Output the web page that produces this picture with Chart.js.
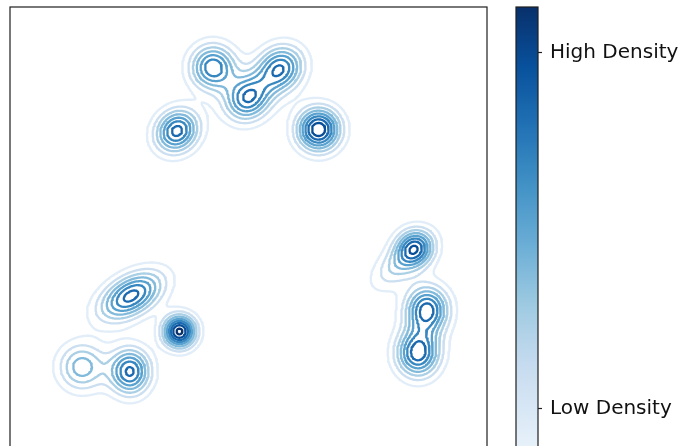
<!DOCTYPE html>
<html>
<head>
<meta charset="utf-8">
<script src="https://cdn.jsdelivr.net/npm/chart.js@4.4.1/dist/chart.umd.min.js"></script>
<style>
  html, body { margin: 0; padding: 0; background: #fff; overflow: hidden; }
  #wrap { width: 680px; height: 446px; overflow: hidden; }
</style>
</head>
<body>
<div id="wrap"><canvas id="chart" width="680" height="486"></canvas></div>
<script>
// density blobs (axis units, both axes 0-10)
const blobX       = [6.468, 3.501, 4.256, 5.660, 4.990, 2.537, 3.553, 1.509, 2.516, 8.491, 8.197, 8.742, 8.553];
const blobY       = [7.432, 7.400, 8.732, 8.700, 8.092, 3.941, 3.197, 2.453, 2.358, 4.948, 4.654, 3.648, 2.746];
const blobPeak    = [8.8,   7.4,   6.8,   7.0,   7.0,   7.4,   9.3,   4.6,   7.2,   5.9,   3.3,   7.5,   7.65];
const blobSpreadA = [0.314, 0.335, 0.329, 0.356, 0.356, 0.503, 0.239, 0.346, 0.294, 0.273, 0.503, 0.314, 0.314];
const blobSpreadB = [0.314, 0.293, 0.329, 0.314, 0.314, 0.283, 0.239, 0.346, 0.335, 0.273, 0.252, 0.346, 0.346];
const blobTilt    = [0,     45,    0,     42,    42,    30,    0,     0,     0,     0,     42,    0,     0];

const contourLevels = [1, 2, 3, 4, 5, 6, 7, 8, 9];
const colorbarTicks = [0.16, 0.905];
const colorbarLabels = ['Low Density', 'High Density'];

// matplotlib "Blues"
const blues = ['#f7fbff', '#deebf7', '#c6dbef', '#9ecae1', '#6baed6', '#4292c6', '#2171b5', '#08519c', '#08306b'];
function bluesAt(t) {
  t = Math.max(0, Math.min(1, t));
  const p = t * 8, i = Math.min(7, Math.floor(p)), f = p - i;
  const a = parseInt(blues[i].slice(1), 16), b = parseInt(blues[i + 1].slice(1), 16);
  const ch = s => Math.round(((a >> s) & 255) * (1 - f) + ((b >> s) & 255) * f);
  return 'rgb(' + ch(16) + ',' + ch(8) + ',' + ch(0) + ')';
}

// evaluate the density on a grid
const n = 400, nx = n + 1, NP = nx * nx, step = 10 / n;
const cosT = blobTilt.map(d => Math.cos(d * Math.PI / 180));
const sinT = blobTilt.map(d => Math.sin(d * Math.PI / 180));
const field = new Float64Array(NP);
for (let j = 0; j < nx; j++) {
  for (let i = 0; i < nx; i++) {
    const x = i * step, y = j * step;
    let s = 0;
    for (let k = 0; k < blobX.length; k++) {
      const dx = x - blobX[k], dy = y - blobY[k];
      const u = (dx * cosT[k] + dy * sinT[k]) / blobSpreadA[k];
      const v = (-dx * sinT[k] + dy * cosT[k]) / blobSpreadB[k];
      s += blobPeak[k] * Math.exp(-0.5 * (u * u + v * v));
    }
    field[j * nx + i] = s;
  }
}

// marching squares, segments chained into polylines
function traceLevel(L) {
  const adj = new Map(), pos = new Map();
  const at = (i, j) => field[j * nx + i];
  const link = (a, b) => {
    if (!adj.has(a)) adj.set(a, []);
    if (!adj.has(b)) adj.set(b, []);
    adj.get(a).push(b);
    adj.get(b).push(a);
  };
  const hPt = (i, j) => {
    const id = j * nx + i;
    if (!pos.has(id)) { const a = at(i, j), b = at(i + 1, j); pos.set(id, { x: (i + (L - a) / (b - a)) * step, y: j * step }); }
    return id;
  };
  const vPt = (i, j) => {
    const id = NP + j * nx + i;
    if (!pos.has(id)) { const a = at(i, j), b = at(i, j + 1); pos.set(id, { x: i * step, y: (j + (L - a) / (b - a)) * step }); }
    return id;
  };
  for (let j = 0; j < n; j++) {
    for (let i = 0; i < n; i++) {
      const v0 = at(i, j), v1 = at(i + 1, j), v2 = at(i + 1, j + 1), v3 = at(i, j + 1);
      const b0 = v0 > L, b1 = v1 > L, b2 = v2 > L, b3 = v3 > L;
      const c = (b0 ? 1 : 0) | (b1 ? 2 : 0) | (b2 ? 4 : 0) | (b3 ? 8 : 0);
      if (c === 0 || c === 15) continue;
      if (c === 5 || c === 10) {
        const e0 = hPt(i, j), e1 = vPt(i + 1, j), e2 = hPt(i, j + 1), e3 = vPt(i, j);
        const up = (v0 + v1 + v2 + v3) / 4 > L;
        if ((c === 5) === up) { link(e0, e1); link(e2, e3); }
        else { link(e3, e0); link(e1, e2); }
        continue;
      }
      const es = [];
      if (b0 !== b1) es.push(hPt(i, j));
      if (b1 !== b2) es.push(vPt(i + 1, j));
      if (b2 !== b3) es.push(hPt(i, j + 1));
      if (b3 !== b0) es.push(vPt(i, j));
      link(es[0], es[1]);
    }
  }
  const seen = new Set(), lines = [];
  const walk = start => {
    const path = [start];
    seen.add(start);
    let prev = -1, cur = start;
    for (;;) {
      const nb = adj.get(cur);
      const next = nb.find(q => q !== prev && !seen.has(q));
      if (next === undefined) {
        if (nb.includes(start) && path.length > 2) path.push(start);
        break;
      }
      path.push(next);
      seen.add(next);
      prev = cur;
      cur = next;
    }
    lines.push(path.map(id => pos.get(id)));
  };
  for (const [id, nb] of adj) if (nb.length === 1 && !seen.has(id)) walk(id);
  for (const id of adj.keys()) if (!seen.has(id)) walk(id);
  return lines;
}

const datasets = [];
contourLevels.forEach((L, li) => {
  const color = bluesAt((li + 1) / contourLevels.length);
  traceLevel(L).forEach(line => {
    datasets.push({
      data: line,
      showLine: true,
      borderColor: color,
      borderWidth: 2.3,
      borderJoinStyle: 'round',
      borderCapStyle: 'round',
      pointRadius: 0,
      fill: false,
      tension: 0
    });
  });
});

const colorbarPlugin = {
  id: 'colorbar',
  afterDraw(chart) {
    const ctx = chart.ctx, area = chart.chartArea, cb = chart.scales.cb;
    ctx.save();
    // axes frame
    ctx.strokeStyle = '#1f1f1f';
    ctx.lineWidth = 1.2;
    ctx.strokeRect(area.left, area.top, area.right - area.left, area.bottom - area.top);
    // colour bar
    const left = area.right + 29, w = 22;
    const top = cb.getPixelForValue(1), bottom = cb.getPixelForValue(0);
    const g = ctx.createLinearGradient(0, bottom, 0, top);
    blues.forEach((c, i) => g.addColorStop(i / 8, c));
    ctx.fillStyle = g;
    ctx.fillRect(left, top, w, bottom - top);
    ctx.strokeRect(left, top, w, bottom - top);
    ctx.fillStyle = '#111';
    ctx.font = '20px "DejaVu Sans"';
    ctx.textBaseline = 'middle';
    colorbarTicks.forEach((v, i) => {
      const y = Math.round(cb.getPixelForValue(v)) + 0.5;
      ctx.beginPath();
      ctx.moveTo(left + w, y);
      ctx.lineTo(left + w + 4, y);
      ctx.stroke();
      ctx.fillText(colorbarLabels[i], left + w + 12, y);
    });
    ctx.restore();
  }
};

new Chart(document.getElementById('chart'), {
  type: 'scatter',
  data: { datasets },
  options: {
    responsive: false,
    animation: false,
    devicePixelRatio: 1,
    layout: { padding: { left: 10, top: 7, right: 193, bottom: 2 } },
    scales: {
      x: { type: 'linear', min: 0, max: 10, display: false },
      y: { type: 'linear', min: 0, max: 10, display: false },
      cb: { type: 'linear', axis: 'y', min: 0, max: 1, display: false }
    },
    plugins: { legend: { display: false }, tooltip: { enabled: false } }
  },
  plugins: [colorbarPlugin]
});
</script>
</body>
</html>
